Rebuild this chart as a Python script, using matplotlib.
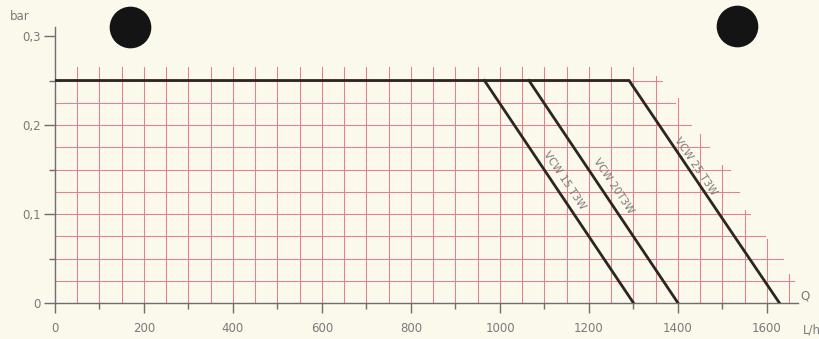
import matplotlib
matplotlib.use("Agg")
import matplotlib.pyplot as plt
import numpy as np

# flow Q (L/h) and pressure loss (bar) of the three valve curves
curve_names = ["VCW 15 T3W", "VCW 20T3W", "VCW 25 T3W"]
curve_q = [[965, 1300], [1065, 1400], [0, 1290, 1628]]
curve_p = [[0.25, 0.0], [0.25, 0.0], [0.25, 0.25, 0.0]]
label_q = [1145, 1254, 1440]
label_p = [0.138, 0.132, 0.153]

# hand-drawn red grid: vertical lines and where each one stops at the top
grid_q = [50 * i for i in range(1, 34)]
grid_top_right = {1350: 0.255, 1400: 0.23, 1450: 0.19, 1500: 0.155,
                  1550: 0.105, 1600: 0.072, 1650: 0.033}
grid_top_default = 0.265
# horizontal grid lines and where each one stops on the right
grid_p = [0.025, 0.05, 0.075, 0.1, 0.125, 0.15, 0.175, 0.2, 0.225, 0.25]
grid_end = [1660, 1636, 1596, 1562, 1537, 1517, 1470, 1430, 1393, 1365]

# the two black punch-hole dots
dot_q = [169, 1533]
dot_p = [0.310, 0.311]

x_major = list(range(0, 1601, 200))
x_minor = list(range(100, 1600, 200))
y_major = [0, 0.1, 0.2, 0.3]
y_labels = ["0", "0,1", "0,2", "0,3"]
y_minor = [0.05, 0.15, 0.25]

bg = "#fbf8ec"
grid_col = "#e5808d"
ink = "#2b2622"
axis_col = "#6e6e6e"
text_col = "#7a7a7a"

W, H = 820, 339
fig = plt.figure(figsize=(W / 100, H / 100), dpi=100, facecolor=bg)
# 0 L/h at x=55px, 0.445 px per L/h; 0 bar at y=303px, 890 px per bar
ax = fig.add_axes([55 / W, 36 / H, 1700 * 0.445 / W, 0.32 * 890 / H])
ax.set_facecolor(bg)
ax.set_xlim(0, 1700)
ax.set_ylim(0, 0.32)

for q in grid_q:
    top = grid_top_right.get(q, grid_top_default)
    ax.plot([q, q], [0, top], color=grid_col, lw=0.75, zorder=1)
for p, end in zip(grid_p, grid_end):
    ax.plot([0, end], [p, p], color=grid_col, lw=0.75, zorder=1)

for q, p in zip(curve_q, curve_p):
    ax.plot(q, p, color=ink, lw=2.0, solid_joinstyle="miter", zorder=3)

fig.canvas.draw()
for name, q, p, lq, lp in zip(curve_names, curve_q, curve_p, label_q, label_p):
    a = ax.transData.transform((q[-2], p[-2]))
    b = ax.transData.transform((q[-1], p[-1]))
    ang = np.degrees(np.arctan2(b[1] - a[1], b[0] - a[0]))
    ax.text(lq, lp, name, rotation=ang, rotation_mode="anchor",
            ha="center", va="center", fontsize=7.5, color=text_col, zorder=4)

ax.scatter(dot_q, dot_p, s=840, color="#141414", clip_on=False, zorder=5)

for s in ["top", "right"]:
    ax.spines[s].set_visible(False)
ax.spines["left"].set_bounds(0, 0.31)
ax.spines["bottom"].set_bounds(0, 1670)
for s in ["left", "bottom"]:
    ax.spines[s].set_color(axis_col)
    ax.spines[s].set_linewidth(1.0)
    ax.spines[s].set_zorder(2)

ax.set_xticks(x_major)
ax.set_xticks(x_minor, minor=True)
ax.set_yticks(y_major)
ax.set_yticklabels(y_labels)
ax.set_yticks(y_minor, minor=True)
ax.tick_params(axis="x", which="major", length=7.5, width=1.0, color=axis_col,
               labelcolor=text_col, labelsize=8.5, pad=6)
ax.tick_params(axis="x", which="minor", length=4, width=1.0, color=axis_col)
ax.tick_params(axis="y", which="major", length=8, width=1.0, color=axis_col,
               labelcolor=text_col, labelsize=8.5, pad=2)
ax.tick_params(axis="y", which="minor", length=4.5, width=1.0, color=axis_col)

fig.text(20 / W, 1 - 17 / H, "bar", ha="center", va="center",
         fontsize=8.5, color=text_col)
fig.text(805 / W, 1 - 296 / H, "Q", ha="center", va="center",
         fontsize=8.5, color=text_col)
fig.text(803 / W, 1 - 330 / H, "L/h", ha="left", va="center",
         fontsize=8.5, color=text_col)

fig.savefig("out.png", dpi=100, facecolor=bg)
